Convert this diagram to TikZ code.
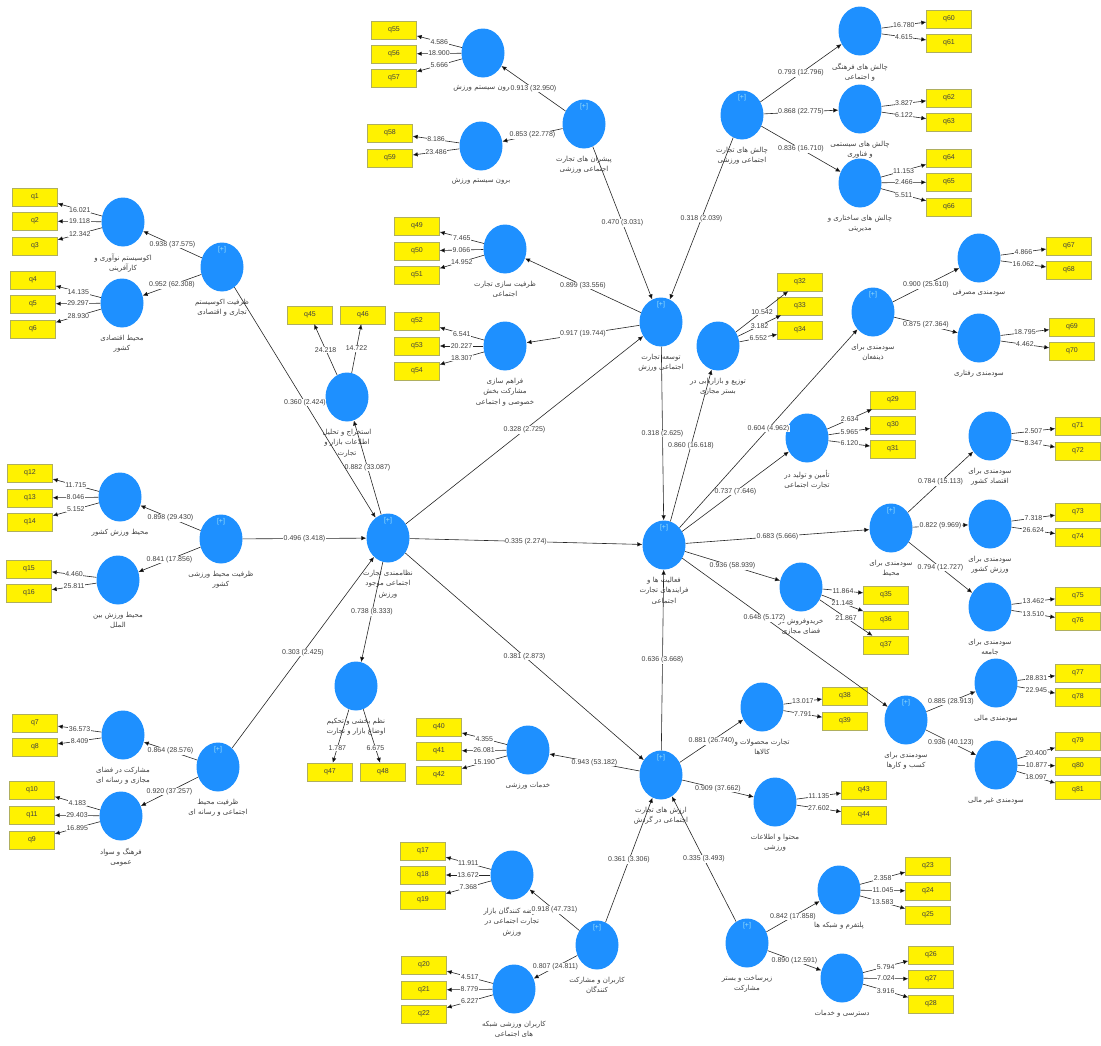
\documentclass[tikz,border=0pt]{standalone}
\usepackage{fontspec}
\setmainfont{Liberation Sans}
\newfontfamily\fafont[Script=Arabic]{DejaVu Sans}
\TeXXeTstate=1
\usetikzlibrary{arrows.meta,shapes.geometric}
\definecolor{lvblue}{RGB}{30,144,255}
\definecolor{boxline}{RGB}{175,175,95}
\begin{document}
\begin{tikzpicture}[x=1pt, y=-1pt,
  lv/.style={ellipse, fill=lvblue, minimum width=43pt, minimum height=49pt, inner sep=0pt},
  ind/.style={rectangle, draw=boxline, fill=yellow, minimum width=45pt, minimum height=18pt, inner sep=0pt, font=\fontsize{7}{8}\selectfont, text=black!75},
  lbl/.style={align=center, yshift=-6pt, inner sep=1pt, font=\fafont\fontsize{7}{10.5}\selectfont, text=black!75},
  plus/.style={anchor=north, yshift=-3pt, inner sep=1pt, font=\fontsize{7}{8}\selectfont, text=white!60!cyan},
  coef/.style={midway, fill=white, inner sep=0.6pt, font=\fontsize{7}{8}\selectfont, text=black!75},
  arr/.style={-{Latex[length=5pt,width=4.5pt]}, line width=0.6pt, draw=black!85}]
            \useasboundingbox (0,0) rectangle (1101,1045);

            % latent variables
            \node[lv, label={[lbl]below:{\beginR اکوسیستم نوآوری و\endR\\\beginR کارآفرینی\endR}}] (eco1) at (123,222) {};
            \node[lv, label={[lbl]below:{\beginR محیط اقتصادی\endR\\\beginR کشور\endR}}] (eco2) at (122,303) {};
            \node[lv, label={[plus]above:{[+]}}, label={[lbl]below:{\beginR ظرفیت اکوسیستم\endR\\\beginR تجاری و اقتصادی\endR}}] (ecoH) at (222,267) {};

            \node[lv, label={[lbl]below:{\beginR درون سیستم ورزش\endR}}] (sys1) at (483,53) {};
            \node[lv, label={[lbl]below:{\beginR برون سیستم ورزش\endR}}] (sys2) at (481,146) {};
            \node[lv, label={[plus]above:{[+]}}, label={[lbl]below:{\beginR پیشران های تجارت\endR\\\beginR اجتماعی ورزشی\endR}}] (sysH) at (584,124) {};

            \node[lv, label={[lbl]below:{\beginR ظرفیت سازی تجارت\endR\\\beginR اجتماعی\endR}}] (cap1) at (505,249) {};
            \node[lv, label={[lbl]below:{\beginR فراهم سازی\endR\\\beginR مشارکت بخش\endR\\\beginR خصوصی و اجتماعی\endR}}] (cap2) at (505,346) {};
            \node[lv, label={[plus]above:{[+]}}, label={[lbl]below:{\beginR توسعه تجارت\endR\\\beginR اجتماعی ورزش\endR}}] (dev) at (661,322) {};

            \node[lv, label={[lbl]below:{\beginR چالش های فرهنگی\endR\\\beginR و اجتماعی\endR}}] (chal1) at (860,31) {};
            \node[lv, label={[lbl]below:{\beginR چالش های سیستمی\endR\\\beginR و فناوری\endR}}] (chal2) at (860,109) {};
            \node[lv, label={[lbl]below:{\beginR چالش های ساختاری و\endR\\\beginR مدیریتی\endR}}] (chal3) at (860,183) {};
            \node[lv, label={[plus]above:{[+]}}, label={[lbl]below:{\beginR چالش های تجارت\endR\\\beginR اجتماعی ورزشی\endR}}] (chalH) at (742,115) {};

            \node[lv, label={[lbl]below:{\beginR سودمندی مصرفی\endR}}] (ben1) at (979,258) {};
            \node[lv, label={[lbl]below:{\beginR سودمندی رفتاری\endR}}] (ben2) at (979,338) {};
            \node[lv, label={[plus]above:{[+]}}, label={[lbl]below:{\beginR سودمندی برای\endR\\\beginR ذینفعان\endR}}] (benH1) at (873,312) {};

            \node[lv, label={[lbl]below:{\beginR توزیع و بازاریابی در\endR\\\beginR بستر مجازی\endR}}] (dist) at (718,346) {};
            \node[lv, label={[lbl]below:{\beginR تأمین و تولید در\endR\\\beginR تجارت اجتماعی\endR}}] (crea) at (807,438) {};

            \node[lv, label={[lbl]below:{\beginR سودمندی برای\endR\\\beginR اقتصاد کشور\endR}}] (ben3) at (990,436) {};
            \node[lv, label={[lbl]below:{\beginR سودمندی برای\endR\\\beginR ورزش کشور\endR}}] (ben4) at (990,524) {};
            \node[lv, label={[lbl]below:{\beginR سودمندی برای\endR\\\beginR جامعه\endR}}] (ben5) at (990,607) {};
            \node[lv, label={[plus]above:{[+]}}, label={[lbl]below:{\beginR سودمندی برای\endR\\\beginR محیط\endR}}] (benH2) at (891,528) {};

            \node[lv, label={[lbl]below:{\beginR خریدوفروش در\endR\\\beginR فضای مجازی\endR}}] (buy) at (801,587) {};
            \node[lv, label={[plus]above:{[+]}}, label={[lbl]below:{\beginR فعالیت ها و\endR\\\beginR فرایندهای تجارت\endR\\\beginR اجتماعی\endR}}] (act) at (664,545) {};

            \node[lv, label={[lbl]below:{\beginR سودمندی مالی\endR}}] (ben6) at (996,683) {};
            \node[lv, label={[lbl]below:{\beginR سودمندی غیر مالی\endR}}] (ben7) at (996,765) {};
            \node[lv, label={[plus]above:{[+]}}, label={[lbl]below:{\beginR سودمندی برای\endR\\\beginR کسب و کارها\endR}}] (benH3) at (906,720) {};

            \node[lv, label={[lbl]below:{\beginR تجارت محصولات و\endR\\\beginR کالاها\endR}}] (prod) at (762,707) {};
            \node[lv, label={[lbl]below:{\beginR محتوا و اطلاعات\endR\\\beginR ورزشی\endR}}] (cont) at (775,802) {};
            \node[lv, label={[lbl]below:{\beginR خدمات ورزشی\endR}}] (serv) at (528,750) {};
            \node[lv, label={[plus]above:{[+]}}, label={[lbl]below:{\beginR ارزش های تجارت\endR\\\beginR اجتماعی در گردش\endR}}] (val) at (661,775) {};

            \node[lv, label={[lbl]below:{\beginR استخراج و تحلیل\endR\\\beginR اطلاعات بازار و\endR\\\beginR تجارت\endR}}] (extr) at (347,397) {};
            \node[lv, label={[lbl]below:{\beginR نظم بخشی و تحکیم\endR\\\beginR اوضاع بازار و تجارت\endR}}] (anal) at (356,686) {};
            \node[lv, label={[plus]above:{[+]}}, label={[lbl]below:{\beginR نظاممندی تجارت\endR\\\beginR اجتماعی موجود\endR\\\beginR ورزش\endR}}] (sysC) at (388,538) {};

            \node[lv, label={[lbl]below:{\beginR محیط ورزش کشور\endR}}] (env1) at (120,497) {};
            \node[lv, label={[lbl]below:{\beginR محیط ورزش بین\endR\\\beginR الملل\endR}}] (env2) at (118,580) {};
            \node[lv, label={[plus]above:{[+]}}, label={[lbl]below:{\beginR ظرفیت محیط ورزشی\endR\\\beginR کشور\endR}}] (envH) at (221,539) {};

            \node[lv, label={[lbl]below:{\beginR مشارکت در فضای\endR\\\beginR مجازی و رسانه ای\endR}}] (soc1) at (123,735) {};
            \node[lv, label={[lbl]below:{\beginR فرهنگ و سواد\endR\\\beginR عمومی\endR}}] (soc2) at (121,816) {};
            \node[lv, label={[plus]above:{[+]}}, label={[lbl]below:{\beginR ظرفیت محیط\endR\\\beginR اجتماعی و رسانه ای\endR}}] (socH) at (218,767) {};

            \node[lv, label={[lbl]below:{\beginR عرضه کنندگان بازار\endR\\\beginR تجارت اجتماعی در\endR\\\beginR ورزش\endR}}] (mkt) at (512,875) {};
            \node[lv, label={[lbl]below:{\beginR کاربران ورزشی شبکه\endR\\\beginR های اجتماعی\endR}}] (usrs) at (514,989) {};
            \node[lv, label={[plus]above:{[+]}}, label={[lbl]below:{\beginR کاربران و مشارکت\endR\\\beginR کنندگان\endR}}] (usrH) at (597,945) {};

            \node[lv, label={[lbl]below:{\beginR پلتفرم و شبکه ها\endR}}] (plat1) at (839,890) {};
            \node[lv, label={[lbl]below:{\beginR دسترسی و خدمات\endR}}] (plat2) at (842,978) {};
            \node[lv, label={[plus]above:{[+]}}, label={[lbl]below:{\beginR زیرساخت و بستر\endR\\\beginR مشارکت\endR}}] (platH) at (747,943) {};

            % indicators
            \node[ind] (q1) at (35,197) {q1};
            \node[ind] (q2) at (35,221) {q2};
            \node[ind] (q3) at (35,246) {q3};
            \node[ind] (q4) at (33,280) {q4};
            \node[ind] (q5) at (33,304) {q5};
            \node[ind] (q6) at (33,329) {q6};
            \node[ind] (q7) at (35,723) {q7};
            \node[ind] (q8) at (35,747) {q8};
            \node[ind] (q10) at (32,790) {q10};
            \node[ind] (q11) at (32,815) {q11};
            \node[ind] (q9) at (32,840) {q9};
            \node[ind] (q12) at (30,473) {q12};
            \node[ind] (q13) at (30,498) {q13};
            \node[ind] (q14) at (30,522) {q14};
            \node[ind] (q15) at (29,569) {q15};
            \node[ind] (q16) at (29,593) {q16};
            \node[ind] (q17) at (423,851) {q17};
            \node[ind] (q18) at (423,875) {q18};
            \node[ind] (q19) at (423,900) {q19};
            \node[ind] (q20) at (424,965) {q20};
            \node[ind] (q21) at (424,990) {q21};
            \node[ind] (q22) at (424,1014) {q22};
            \node[ind] (q23) at (928,866) {q23};
            \node[ind] (q24) at (928,891) {q24};
            \node[ind] (q25) at (928,915) {q25};
            \node[ind] (q26) at (931,955) {q26};
            \node[ind] (q27) at (931,979) {q27};
            \node[ind] (q28) at (931,1004) {q28};
            \node[ind] (q29) at (893,400) {q29};
            \node[ind] (q30) at (893,425) {q30};
            \node[ind] (q31) at (893,449) {q31};
            \node[ind] (q32) at (800,282) {q32};
            \node[ind] (q33) at (800,306) {q33};
            \node[ind] (q34) at (800,330) {q34};
            \node[ind] (q35) at (886,595) {q35};
            \node[ind] (q36) at (886,620) {q36};
            \node[ind] (q37) at (886,645) {q37};
            \node[ind] (q38) at (845,696) {q38};
            \node[ind] (q39) at (845,721) {q39};
            \node[ind] (q40) at (439,727) {q40};
            \node[ind] (q41) at (439,751) {q41};
            \node[ind] (q42) at (439,775) {q42};
            \node[ind] (q43) at (864,790) {q43};
            \node[ind] (q44) at (864,815) {q44};
            \node[ind] (q45) at (310,315) {q45};
            \node[ind] (q46) at (363,315) {q46};
            \node[ind] (q47) at (330,772) {q47};
            \node[ind] (q48) at (383,772) {q48};
            \node[ind] (q49) at (417,226) {q49};
            \node[ind] (q50) at (417,251) {q50};
            \node[ind] (q51) at (417,275) {q51};
            \node[ind] (q52) at (417,321) {q52};
            \node[ind] (q53) at (417,346) {q53};
            \node[ind] (q54) at (417,371) {q54};
            \node[ind] (q55) at (394,30) {q55};
            \node[ind] (q56) at (394,54) {q56};
            \node[ind] (q57) at (394,78) {q57};
            \node[ind] (q58) at (390,133) {q58};
            \node[ind] (q59) at (390,158) {q59};
            \node[ind] (q60) at (949,19) {q60};
            \node[ind] (q61) at (949,43) {q61};
            \node[ind] (q62) at (949,98) {q62};
            \node[ind] (q63) at (949,122) {q63};
            \node[ind] (q64) at (949,158) {q64};
            \node[ind] (q65) at (949,182) {q65};
            \node[ind] (q66) at (949,207) {q66};
            \node[ind] (q67) at (1069,246) {q67};
            \node[ind] (q68) at (1069,270) {q68};
            \node[ind] (q69) at (1072,327) {q69};
            \node[ind] (q70) at (1072,351) {q70};
            \node[ind] (q71) at (1078,426) {q71};
            \node[ind] (q72) at (1078,451) {q72};
            \node[ind] (q73) at (1078,512) {q73};
            \node[ind] (q74) at (1078,537) {q74};
            \node[ind] (q75) at (1078,596) {q75};
            \node[ind] (q76) at (1078,621) {q76};
            \node[ind] (q77) at (1078,673) {q77};
            \node[ind] (q78) at (1078,697) {q78};
            \node[ind] (q79) at (1078,741) {q79};
            \node[ind] (q80) at (1078,766) {q80};
            \node[ind] (q81) at (1078,790) {q81};

            % outer loadings
            \path[arr] (eco1) edge node[coef]{16.021} (q1);
            \path[arr] (eco1) edge node[coef]{19.118} (q2);
            \path[arr] (eco1) edge node[coef]{12.342} (q3);
            \path[arr] (eco2) edge node[coef]{14.135} (q4);
            \path[arr] (eco2) edge node[coef]{29.297} (q5);
            \path[arr] (eco2) edge node[coef]{28.930} (q6);
            \path[arr] (soc1) edge node[coef]{36.573} (q7);
            \path[arr] (soc1) edge node[coef]{8.409} (q8);
            \path[arr] (soc2) edge node[coef]{4.183} (q10);
            \path[arr] (soc2) edge node[coef]{29.403} (q11);
            \path[arr] (soc2) edge node[coef]{16.895} (q9);
            \path[arr] (env1) edge node[coef]{11.715} (q12);
            \path[arr] (env1) edge node[coef]{8.046} (q13);
            \path[arr] (env1) edge node[coef]{5.152} (q14);
            \path[arr] (env2) edge node[coef]{4.460} (q15);
            \path[arr] (env2) edge node[coef]{25.811} (q16);
            \path[arr] (mkt) edge node[coef]{11.911} (q17);
            \path[arr] (mkt) edge node[coef]{13.672} (q18);
            \path[arr] (mkt) edge node[coef]{7.368} (q19);
            \path[arr] (usrs) edge node[coef]{4.517} (q20);
            \path[arr] (usrs) edge node[coef]{8.779} (q21);
            \path[arr] (usrs) edge node[coef]{6.227} (q22);
            \path[arr] (plat1) edge node[coef]{2.358} (q23);
            \path[arr] (plat1) edge node[coef]{11.045} (q24);
            \path[arr] (plat1) edge node[coef]{13.583} (q25);
            \path[arr] (plat2) edge node[coef]{5.794} (q26);
            \path[arr] (plat2) edge node[coef]{7.024} (q27);
            \path[arr] (plat2) edge node[coef]{3.916} (q28);
            \path[arr] (crea) edge node[coef]{2.634} (q29);
            \path[arr] (crea) edge node[coef]{5.965} (q30);
            \path[arr] (crea) edge node[coef]{6.120} (q31);
            \path[arr] (dist) edge node[coef]{10.542} (q32);
            \path[arr] (dist) edge node[coef]{3.182} (q33);
            \path[arr] (dist) edge node[coef]{6.552} (q34);
            \path[arr] (buy) edge node[coef]{11.864} (q35);
            \path[arr] (buy) edge node[coef]{21.148} (q36);
            \path[arr] (buy) edge node[coef]{21.867} (q37);
            \path[arr] (prod) edge node[coef]{13.017} (q38);
            \path[arr] (prod) edge node[coef]{7.791} (q39);
            \path[arr] (serv) edge node[coef]{4.355} (q40);
            \path[arr] (serv) edge node[coef]{26.081} (q41);
            \path[arr] (serv) edge node[coef]{15.190} (q42);
            \path[arr] (cont) edge node[coef]{11.135} (q43);
            \path[arr] (cont) edge node[coef]{27.602} (q44);
            \path[arr] (extr) edge node[coef]{24.218} (q45);
            \path[arr] (extr) edge node[coef]{14.722} (q46);
            \path[arr] (anal) edge node[coef, pos=0.72]{1.787} (q47);
            \path[arr] (anal) edge node[coef, pos=0.72]{6.675} (q48);
            \path[arr] (cap1) edge node[coef]{7.465} (q49);
            \path[arr] (cap1) edge node[coef]{9.066} (q50);
            \path[arr] (cap1) edge node[coef]{14.952} (q51);
            \path[arr] (cap2) edge node[coef]{6.541} (q52);
            \path[arr] (cap2) edge node[coef]{20.227} (q53);
            \path[arr] (cap2) edge node[coef]{18.307} (q54);
            \path[arr] (sys1) edge node[coef]{4.586} (q55);
            \path[arr] (sys1) edge node[coef]{18.900} (q56);
            \path[arr] (sys1) edge node[coef]{5.666} (q57);
            \path[arr] (sys2) edge node[coef]{8.186} (q58);
            \path[arr] (sys2) edge node[coef]{23.486} (q59);
            \path[arr] (chal1) edge node[coef]{16.780} (q60);
            \path[arr] (chal1) edge node[coef]{4.615} (q61);
            \path[arr] (chal2) edge node[coef]{3.827} (q62);
            \path[arr] (chal2) edge node[coef]{6.122} (q63);
            \path[arr] (chal3) edge node[coef]{11.153} (q64);
            \path[arr] (chal3) edge node[coef]{2.466} (q65);
            \path[arr] (chal3) edge node[coef]{5.511} (q66);
            \path[arr] (ben1) edge node[coef]{4.866} (q67);
            \path[arr] (ben1) edge node[coef]{16.062} (q68);
            \path[arr] (ben2) edge node[coef]{18.795} (q69);
            \path[arr] (ben2) edge node[coef]{4.462} (q70);
            \path[arr] (ben3) edge node[coef]{2.507} (q71);
            \path[arr] (ben3) edge node[coef]{8.347} (q72);
            \path[arr] (ben4) edge node[coef]{7.318} (q73);
            \path[arr] (ben4) edge node[coef]{26.624} (q74);
            \path[arr] (ben5) edge node[coef]{13.462} (q75);
            \path[arr] (ben5) edge node[coef]{13.510} (q76);
            \path[arr] (ben6) edge node[coef]{28.831} (q77);
            \path[arr] (ben6) edge node[coef]{22.945} (q78);
            \path[arr] (ben7) edge node[coef]{20.400} (q79);
            \path[arr] (ben7) edge node[coef]{10.877} (q80);
            \path[arr] (ben7) edge node[coef]{18.097} (q81);

            % second order
            \path[arr] (ecoH) edge node[coef]{0.938 (37.575)} (eco1);
            \path[arr] (ecoH) edge node[coef]{0.952 (62.308)} (eco2);
            \path[arr] (sysH) edge node[coef]{0.913 (32.950)} (sys1);
            \path[arr] (sysH) edge node[coef]{0.853 (22.778)} (sys2);
            \path[arr] (dev) edge node[coef]{0.899 (33.556)} (cap1);
            \path[arr] (dev) edge node[coef]{0.917 (19.744)} (cap2);
            \path[arr] (chalH) edge node[coef]{0.793 (12.796)} (chal1);
            \path[arr] (chalH) edge node[coef]{0.868 (22.775)} (chal2);
            \path[arr] (chalH) edge node[coef]{0.836 (16.710)} (chal3);
            \path[arr] (benH1) edge node[coef]{0.900 (25.610)} (ben1);
            \path[arr] (benH1) edge node[coef]{0.875 (27.364)} (ben2);
            \path[arr] (benH2) edge node[coef]{0.784 (15.113)} (ben3);
            \path[arr] (benH2) edge node[coef]{0.822 (9.969)} (ben4);
            \path[arr] (benH2) edge node[coef]{0.794 (12.727)} (ben5);
            \path[arr] (benH3) edge node[coef]{0.885 (28.913)} (ben6);
            \path[arr] (benH3) edge node[coef]{0.936 (40.123)} (ben7);
            \path[arr] (envH) edge node[coef]{0.898 (29.430)} (env1);
            \path[arr] (envH) edge node[coef]{0.841 (17.856)} (env2);
            \path[arr] (socH) edge node[coef]{0.864 (28.576)} (soc1);
            \path[arr] (socH) edge node[coef]{0.920 (37.257)} (soc2);
            \path[arr] (usrH) edge node[coef]{0.918 (47.731)} (mkt);
            \path[arr] (usrH) edge node[coef]{0.807 (24.811)} (usrs);
            \path[arr] (platH) edge node[coef]{0.842 (17.858)} (plat1);
            \path[arr] (platH) edge node[coef]{0.890 (12.591)} (plat2);
            \path[arr] (sysC) edge node[coef]{0.882 (33.087)} (extr);
            \path[arr] (sysC) edge node[coef]{0.738 (8.333)} (anal);
            \path[arr] (act) edge node[coef]{0.860 (16.618)} (dist);
            \path[arr] (act) edge node[coef]{0.737 (7.646)} (crea);
            \path[arr] (act) edge node[coef]{0.936 (58.939)} (buy);
            \path[arr] (val) edge node[coef]{0.943 (53.182)} (serv);
            \path[arr] (val) edge node[coef]{0.881 (26.740)} (prod);
            \path[arr] (val) edge node[coef]{0.909 (37.662)} (cont);

            % structural paths
            \path[arr] (ecoH) edge node[coef]{0.360 (2.424)} (sysC);
            \path[arr] (envH) edge node[coef]{0.496 (3.418)} (sysC);
            \path[arr] (socH) edge node[coef]{0.303 (2.425)} (sysC);
            \path[arr] (sysC) edge node[coef]{0.328 (2.725)} (dev);
            \path[arr] (sysC) edge node[coef]{0.335 (2.274)} (act);
            \path[arr] (sysC) edge node[coef]{0.381 (2.873)} (val);
            \path[arr] (sysH) edge node[coef]{0.470 (3.031)} (dev);
            \path[arr] (chalH) edge node[coef]{0.318 (2.039)} (dev);
            \path[arr] (dev) edge node[coef]{0.318 (2.625)} (act);
            \path[arr] (val) edge node[coef]{0.636 (3.668)} (act);
            \path[arr] (usrH) edge node[coef]{0.361 (3.306)} (val);
            \path[arr] (platH) edge node[coef]{0.335 (3.493)} (val);
            \path[arr] (act) edge node[coef]{0.604 (4.962)} (benH1);
            \path[arr] (act) edge node[coef]{0.683 (5.666)} (benH2);
            \path[arr] (act) edge node[coef, pos=0.4]{0.648 (5.172)} (benH3);
        \end{tikzpicture}
\end{document}
